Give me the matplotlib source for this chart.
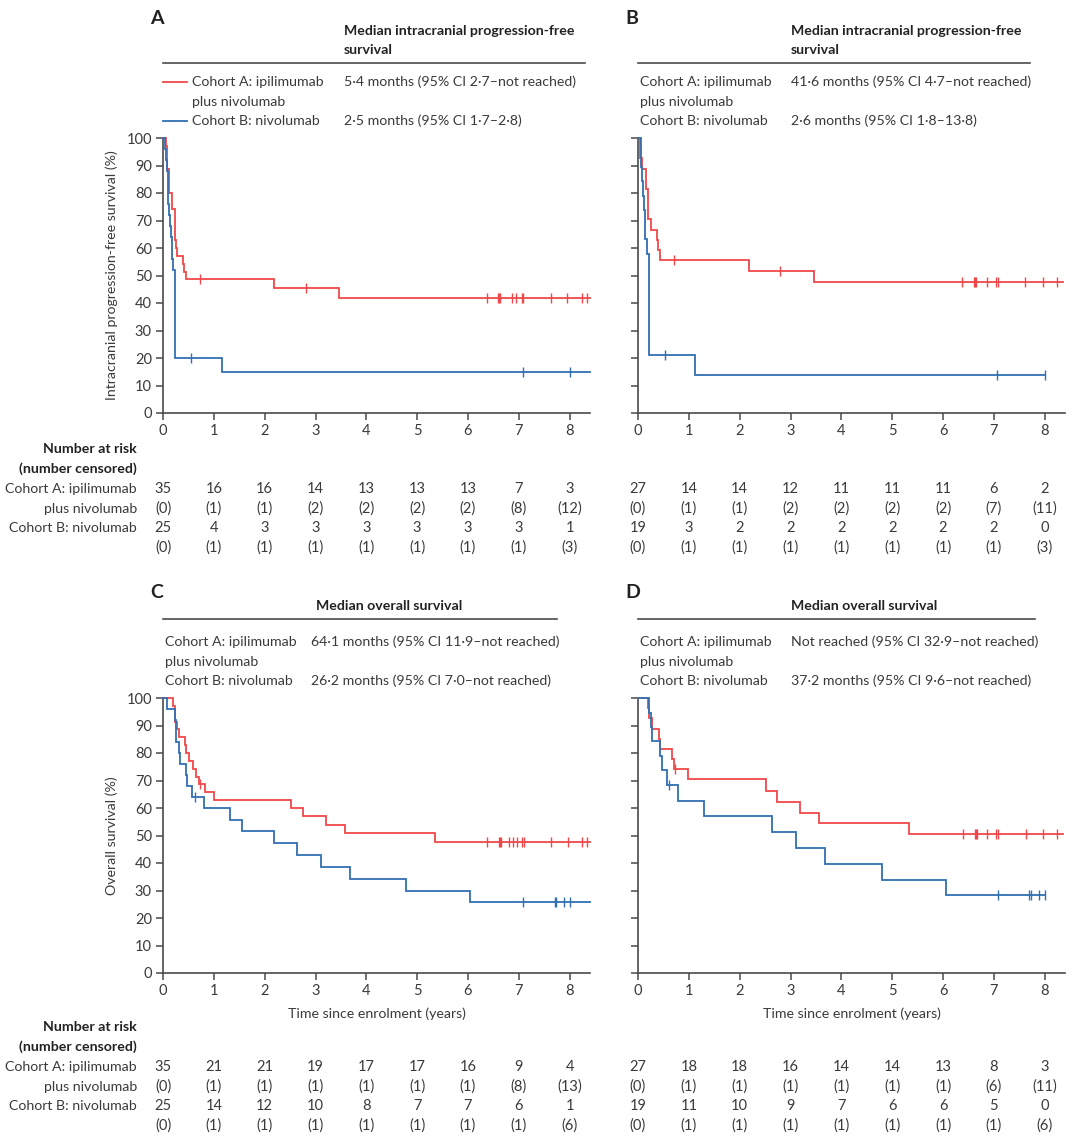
import matplotlib

matplotlib.use("Agg")

import matplotlib.pyplot as plt
import numpy as np
from matplotlib.lines import Line2D
from matplotlib.transforms import blended_transform_factory

plt.rcParams["font.family"] = ["Lato", "DejaVu Sans"]

RED = "#f0484a"
BLUE = "#3270b4"
TXT = "#3a3a3a"
DARK = "#222222"
SPINE = "#4a4a4a"

W, H = 1080, 1138

# ---- data ------------------------------------------------------------------
years = [0, 1, 2, 3, 4, 5, 6, 7, 8]

# panel A: intracranial PFS, cohort A (red) / cohort B (blue)
a_red_t = [0, 0.05, 0.08, 0.12, 0.18, 0.23, 0.25, 0.27, 0.39, 0.41, 0.46, 2.19, 3.47]
a_red_s = [100, 97.1, 88.6, 80.0, 74.3, 62.9, 60.0, 57.1, 54.3, 51.4, 48.6, 45.3, 42.0]
a_red_cens = [0.73, 2.82, 6.38, 6.59, 6.61, 6.63, 6.87, 6.95, 7.06, 7.08, 7.63, 7.95, 8.24, 8.35]
a_blue_t = [0, 0.03, 0.06, 0.08, 0.10, 0.12, 0.13, 0.15, 0.17, 0.20, 0.235, 1.17]
a_blue_s = [100, 96, 92, 88, 76, 72, 68, 64, 56, 52, 20, 15]
a_blue_cens = [0.56, 7.08, 8.0]

# panel B: intracranial PFS (second population)
b_red_t = [0, 0.03, 0.085, 0.15, 0.20, 0.25, 0.37, 0.39, 0.43, 2.18, 3.46]
b_red_s = [100, 92.6, 88.9, 81.5, 70.4, 66.7, 63.0, 59.3, 55.6, 51.6, 47.5]
b_red_cens = [0.71, 2.80, 6.37, 6.60, 6.62, 6.64, 6.86, 7.05, 7.08, 7.62, 7.96, 8.24]
b_blue_t = [0, 0.05, 0.07, 0.09, 0.12, 0.14, 0.18, 0.22, 1.13]
b_blue_s = [100, 89.5, 84.2, 78.9, 73.7, 63.2, 57.9, 21.1, 14.0]
b_blue_cens = [0.54, 7.07, 8.0]

# panel C: overall survival
c_red_t = [0, 0.20, 0.23, 0.27, 0.31, 0.43, 0.45, 0.51, 0.59, 0.65, 0.71, 0.82, 1.00,
           2.51, 2.75, 3.21, 3.58, 5.36]
c_red_s = [100, 97.1, 91.4, 88.6, 85.7, 82.9, 80.0, 77.1, 74.3, 71.4, 68.6, 65.7, 62.9,
           60.0, 57.0, 53.9, 50.8, 47.7]
c_red_cens = [0.73, 6.38, 6.61, 6.63, 6.65, 6.80, 6.88, 6.97, 7.07, 7.10, 7.64, 7.97, 8.25, 8.35]
c_blue_t = [0, 0.08, 0.23, 0.26, 0.31, 0.33, 0.45, 0.47, 0.58, 0.81, 1.31, 1.55, 2.19,
            2.63, 3.11, 3.67, 4.79, 6.04]
c_blue_s = [100, 96, 92, 84, 80, 76, 72, 68, 64, 60, 55.8, 51.5, 47.2, 42.9, 38.6, 34.3,
            30.0, 25.7]
c_blue_cens = [0.62, 7.08, 7.71, 7.74, 7.88, 8.0]

# panel D: overall survival (second population)
d_red_t = [0, 0.19, 0.22, 0.28, 0.41, 0.43, 0.66, 0.71, 0.98, 2.51, 2.74, 3.19, 3.57, 5.34]
d_red_s = [100, 96.3, 92.6, 88.9, 85.2, 81.5, 77.8, 74.1, 70.4, 66.3, 62.2, 58.3, 54.4, 50.5]
d_red_cens = [0.73, 6.39, 6.62, 6.64, 6.66, 6.87, 7.05, 7.08, 7.63, 7.96, 8.25]
d_blue_t = [0, 0.22, 0.26, 0.28, 0.43, 0.47, 0.58, 0.79, 1.30, 2.63, 3.10, 3.67, 4.80, 6.05]
d_blue_s = [100, 94.7, 89.5, 84.2, 78.9, 73.7, 68.4, 62.7, 57.0, 51.2, 45.5, 39.8, 33.9, 28.2]
d_blue_cens = [0.61, 7.08, 7.70, 7.74, 7.88, 8.0]

# follow-up end of each line (red, blue)
line_end = {"A": (8.4, 8.4), "B": (8.37, 8.0), "C": (8.4, 8.4), "D": (8.37, 8.0)}

# number at risk / number censored
a_red_risk = [35, 16, 16, 14, 13, 13, 13, 7, 3]
a_red_nc = [0, 1, 1, 2, 2, 2, 2, 8, 12]
a_blue_risk = [25, 4, 3, 3, 3, 3, 3, 3, 1]
a_blue_nc = [0, 1, 1, 1, 1, 1, 1, 1, 3]
b_red_risk = [27, 14, 14, 12, 11, 11, 11, 6, 2]
b_red_nc = [0, 1, 1, 2, 2, 2, 2, 7, 11]
b_blue_risk = [19, 3, 2, 2, 2, 2, 2, 2, 0]
b_blue_nc = [0, 1, 1, 1, 1, 1, 1, 1, 3]
c_red_risk = [35, 21, 21, 19, 17, 17, 16, 9, 4]
c_red_nc = [0, 1, 1, 1, 1, 1, 1, 8, 13]
c_blue_risk = [25, 14, 12, 10, 8, 7, 7, 6, 1]
c_blue_nc = [0, 1, 1, 1, 1, 1, 1, 1, 6]
d_red_risk = [27, 18, 18, 16, 14, 14, 13, 8, 3]
d_red_nc = [0, 1, 1, 1, 1, 1, 1, 6, 11]
d_blue_risk = [19, 11, 10, 9, 7, 6, 6, 5, 0]
d_blue_nc = [0, 1, 1, 1, 1, 1, 1, 1, 6]

pfs_title = ["Median intracranial progression-free", "survival"]
os_title = ["Median overall survival"]
medians = {
    "A": ["5·4 months (95% CI 2·7–not reached)", "2·5 months (95% CI 1·7–2·8)"],
    "B": ["41·6 months (95% CI 4·7–not reached)", "2·6 months (95% CI 1·8–13·8)"],
    "C": ["64·1 months (95% CI 11·9–not reached)", "26·2 months (95% CI 7·0–not reached)"],
    "D": ["Not reached (95% CI 32·9–not reached)", "37·2 months (95% CI 9·6–not reached)"],
}


def fx(px):
    return px / W


def fy(py):
    return 1 - py / H


def km_line(ax, t, s, cens, t_end, color):
    t = np.asarray(t, float)
    s = np.asarray(s, float)
    ax.step(np.r_[t, t_end], np.r_[s, s[-1]], where="post", color=color, lw=1.3,
            solid_joinstyle="miter", clip_on=False, zorder=3)
    idx = np.searchsorted(t, cens, side="right") - 1
    ax.plot(cens, s[idx], ls="none", marker="|", ms=7, mew=1.0, color=color,
            clip_on=False, zorder=4)


fig = plt.figure(figsize=(W / 100, H / 100), dpi=100)
fig.patch.set_facecolor("white")

panels = [
    # key, left px, top px, red curve, blue curve, title, ylabel, risk tables
    ("A", 163, 138, (a_red_t, a_red_s, a_red_cens), (a_blue_t, a_blue_s, a_blue_cens),
     pfs_title, "Intracranial progression-free survival (%)",
     (a_red_risk, a_red_nc, a_blue_risk, a_blue_nc)),
    ("B", 638, 138, (b_red_t, b_red_s, b_red_cens), (b_blue_t, b_blue_s, b_blue_cens),
     pfs_title, None, (b_red_risk, b_red_nc, b_blue_risk, b_blue_nc)),
    ("C", 163, 698, (c_red_t, c_red_s, c_red_cens), (c_blue_t, c_blue_s, c_blue_cens),
     os_title, "Overall survival (%)", (c_red_risk, c_red_nc, c_blue_risk, c_blue_nc)),
    ("D", 638, 698, (d_red_t, d_red_s, d_red_cens), (d_blue_t, d_blue_s, d_blue_cens),
     os_title, None, (d_red_risk, d_red_nc, d_blue_risk, d_blue_nc)),
]

FS = 10.2
TFS = 10.5
for key, left, top, red, blue, title, ylab, risk in panels:
    ax = fig.add_axes([fx(left), fy(top + 275), 427 / W, 275 / H])
    ax.set_xlim(0, 8.4)
    ax.set_ylim(0, 100)
    ax.set_xticks(years)
    ax.set_yticks(range(0, 101, 10))
    ax.set_yticklabels([str(v) for v in range(0, 101, 10)] if key in "AC" else [])
    for side in ("top", "right"):
        ax.spines[side].set_visible(False)
    for side in ("left", "bottom"):
        ax.spines[side].set_color(SPINE)
        ax.spines[side].set_linewidth(1.2)
    ax.tick_params(direction="out", length=5, width=1.1, color=SPINE, labelcolor=TXT,
                   labelsize=TFS, pad=3)
    if ylab:
        ax.set_ylabel(ylab, fontsize=FS, color=TXT)
        ax.yaxis.set_label_coords(-0.105, 0.5)
    if key in "CD":
        ax.set_xlabel("Time since enrolment (years)", fontsize=FS, color=TXT)
        ax.xaxis.set_label_coords(0.5, -0.125)

    km_line(ax, *red, line_end[key][0], RED)
    km_line(ax, *blue, line_end[key][1], BLUE)

    # header block
    letter_y = top - 121 if key in "AB" else top - 107
    fig.text(fx(left - 13), fy(letter_y + 1), key, fontsize=14, fontweight="bold",
             color=DARK, ha="left", va="center")
    col2 = left + (181 if key == "A" else 153)
    lab_x = left + 29 if key == "A" else left + 2
    if len(title) == 2:
        fig.text(fx(col2), fy(top - 107), title[0], fontsize=FS, fontweight="bold",
                 color=DARK, va="center")
        fig.text(fx(col2), fy(top - 88), title[1], fontsize=FS, fontweight="bold",
                 color=DARK, va="center")
        rule_y = top - 75
        row_y = top - 56
        rule_end = left + 422 if key == "A" else left + 392
    else:
        fig.text(fx(col2), fy(top - 92), title[0], fontsize=FS, fontweight="bold",
                 color=DARK, va="center")
        rule_y = top - 79
        row_y = top - 56
        rule_end = left + 394 if key == "C" else left + 397
        col2 = left + (148 if key == "C" else 153)
        lab_x = left + 2
    fig.add_artist(Line2D([fx(left), fx(rule_end)], [fy(rule_y), fy(rule_y)],
                          color=SPINE, lw=1.2))
    for txt, dy in (("Cohort A: ipilimumab", 0), ("plus nivolumab", 20), ("Cohort B: nivolumab", 39)):
        fig.text(fx(lab_x), fy(row_y + dy), txt, fontsize=FS, color=TXT, va="center")
    fig.text(fx(col2), fy(row_y), medians[key][0], fontsize=FS, color=TXT, va="center")
    fig.text(fx(col2), fy(row_y + 39), medians[key][1], fontsize=FS, color=TXT, va="center")
    if key == "A":
        for dy, col in ((0, RED), (39, BLUE)):
            fig.add_artist(Line2D([fx(left), fx(left + 24)], [fy(row_y + dy), fy(row_y + dy)],
                                  color=col, lw=1.3))

    # risk table
    tr = blended_transform_factory(ax.transData, fig.transFigure)
    base = top + 351 if key in "AB" else top + 369
    r_risk, r_nc, b_risk, b_nc = risk
    rows = [[str(v) for v in r_risk], [f"({v})" for v in r_nc],
            [str(v) for v in b_risk], [f"({v})" for v in b_nc]]
    for i, row in enumerate(rows):
        for x, val in zip(years, row):
            ax.text(x, fy(base + i * 19.6), val, transform=tr, fontsize=TFS, color=TXT,
                    ha="center", va="center")
    if key in "AC":
        fig.text(fx(137), fy(base - 40), "Number at risk", fontsize=FS, fontweight="bold",
                 color=DARK, ha="right", va="center")
        fig.text(fx(137), fy(base - 20), "(number censored)", fontsize=FS, fontweight="bold",
                 color=DARK, ha="right", va="center")
        for i, txt in enumerate(["Cohort A: ipilimumab", "plus nivolumab", "Cohort B: nivolumab"]):
            fig.text(fx(137), fy(base + i * 19.6), txt, fontsize=FS, color=TXT,
                     ha="right", va="center")

fig.savefig("out.png", dpi=100, facecolor="white")
